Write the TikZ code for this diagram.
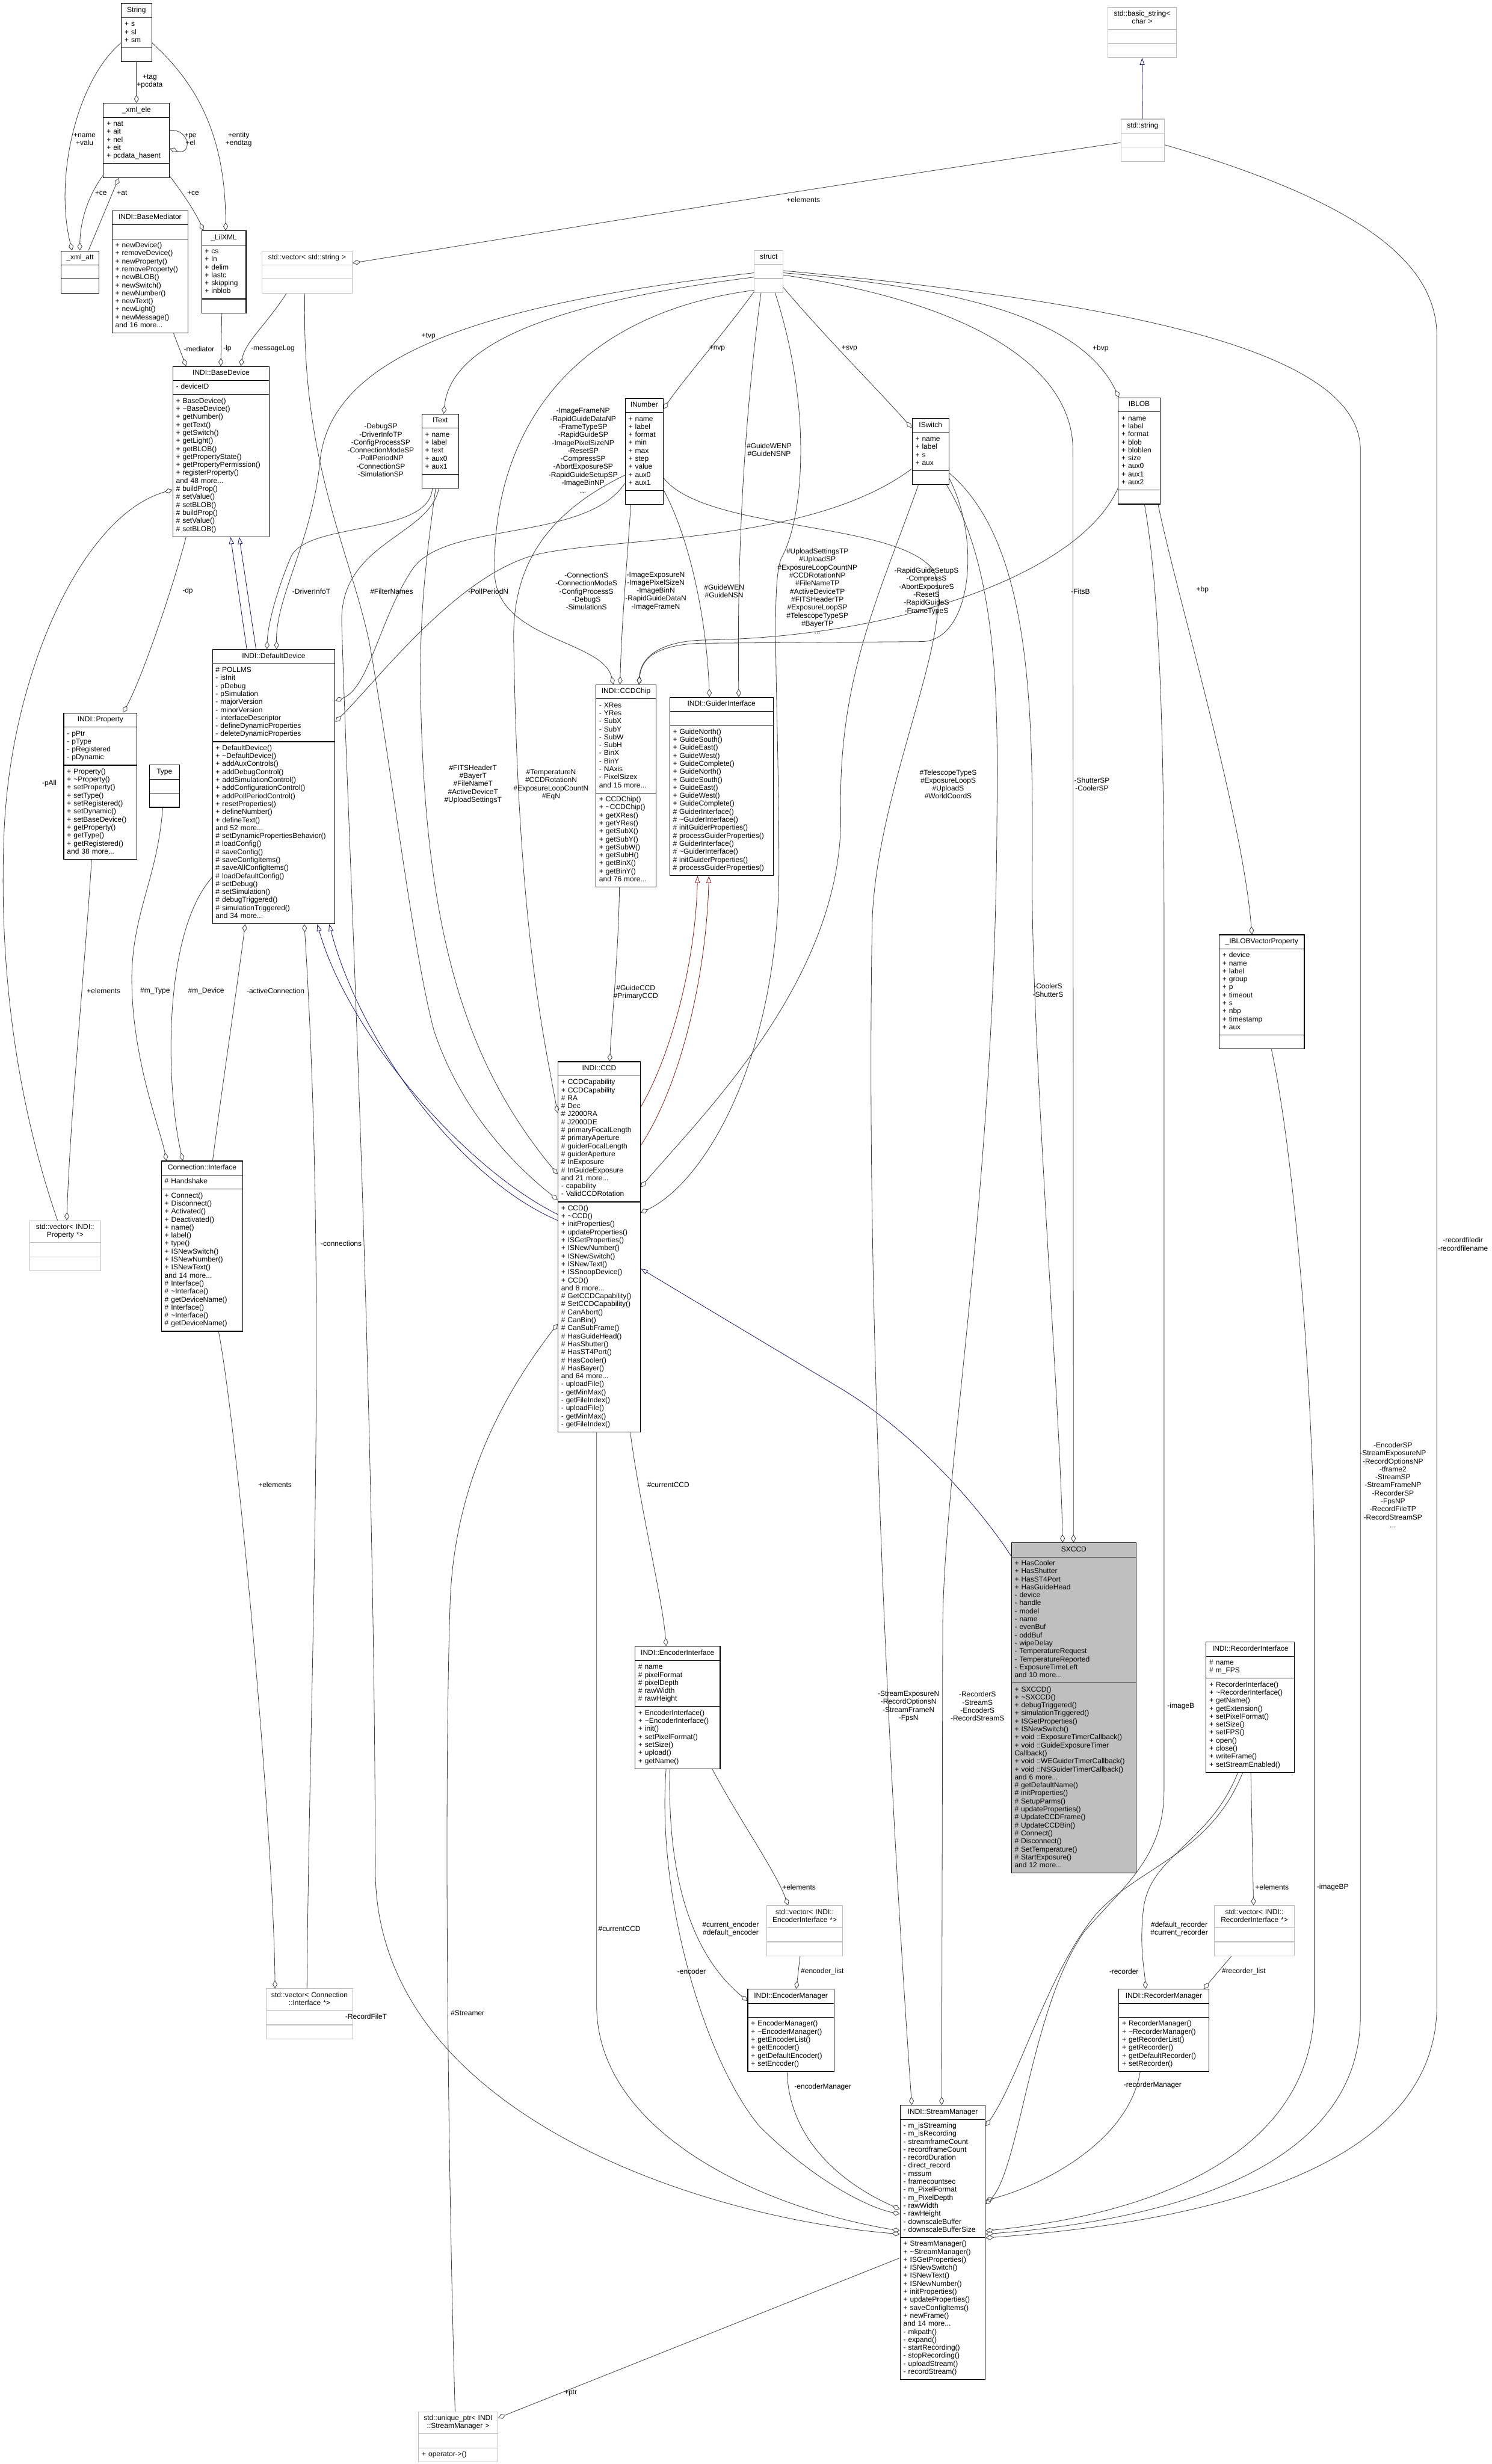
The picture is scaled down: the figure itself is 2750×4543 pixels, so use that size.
\documentclass[tikz,border=0pt]{standalone}
\usepackage{fontspec}
\setmainfont{Liberation Sans}
\usetikzlibrary{shapes.multipart}
\usetikzlibrary{arrows.meta}
\usetikzlibrary{calc}
\definecolor{edgegray}{HTML}{404040}
\definecolor{extgray}{HTML}{BFBFBF}
\definecolor{selgray}{HTML}{BFBFBF}
\definecolor{inhblue}{HTML}{191970}
\definecolor{inhred}{HTML}{8B1A1A}
\newcommand{\dgfont}{\fontsize{13.3pt}{14.75pt}\selectfont}
\newcommand{\memb}[1]{\strut#1\strut}
\newcommand{\ttl}[1]{\strut\hspace*{\fill}#1\hspace*{\fill}\strut}
\newcommand{\tld}{\textasciitilde}

\begin{document}
\begin{tikzpicture}[x=1pt,y=-1pt,
  cls/.style={draw=black,line width=1.2pt,fill=white,rectangle split,rectangle split parts=3,text width=#1,align=left,inner xsep=6pt,inner ysep=5pt,font=\dgfont,anchor=north west},
  ext/.style={draw=extgray},
  sel/.style={fill=selgray},
  agg/.style={draw=edgegray,line width=0.9pt,-{Diamond[open,length=15pt,width=9pt]}},
  inh/.style={draw=inhblue,line width=0.9pt,-{Triangle[open,length=13pt,width=9pt]}},
  inhp/.style={draw=inhred,line width=0.9pt,-{Triangle[open,length=13pt,width=9pt]}},
  lbl/.style={font=\dgfont,align=center,inner sep=0pt}]
  \path[use as bounding box,fill=white] (0,0) rectangle (2750,4543);

  \node[cls=44pt] (string) at (223,6) {\ttl{String}\nodepart{second}\memb{+ s\\+ sl\\+ sm}\nodepart{third}\strut};
  \node[cls=110pt] (xmlele) at (190,190) {\ttl{\_xml\_ele}\nodepart{second}\memb{+ nat\\+ ait\\+ nel\\+ eit\\+ pcdata\_hasent}\nodepart{third}\strut};
  \node[cls=58pt] (xmlatt) at (112,462) {\ttl{\_xml\_att}\nodepart{second}\strut\nodepart{third}\strut};
  \node[cls=128pt] (basemed) at (206,388) {\ttl{INDI::BaseMediator}\nodepart{second}\strut\nodepart{third}\memb{+ newDevice()\\+ removeDevice()\\+ newProperty()\\+ removeProperty()\\+ newBLOB()\\+ newSwitch()\\+ newNumber()\\+ newText()\\+ newLight()\\+ newMessage()\\and 16 more...}};
  \node[cls=70pt] (lilxml) at (371,425) {\ttl{\_LilXML}\nodepart{second}\memb{+ cs\\+ ln\\+ delim\\+ lastc\\+ skipping\\+ inblob}\nodepart{third}\strut};
  \node[cls=155pt,ext] (vecstr) at (482,462) {\ttl{std::vector< std::string >}\nodepart{second}\strut\nodepart{third}\strut};
  \node[cls=166pt] (basedev) at (318,675) {\ttl{INDI::BaseDevice}\nodepart{second}\memb{- deviceID}\nodepart{third}\memb{+ BaseDevice()\\+ \tld BaseDevice()\\+ getNumber()\\+ getText()\\+ getSwitch()\\+ getLight()\\+ getBLOB()\\+ getPropertyState()\\+ getPropertyPermission()\\+ registerProperty()\\and 48 more...\\\# buildProp()\\\# setValue()\\\# setBLOB()\\\# buildProp()\\\# setValue()\\\# setBLOB()}};
  \node[cls=56pt] (itext) at (777,763) {\ttl{IText}\nodepart{second}\memb{+ name\\+ label\\+ text\\+ aux0\\+ aux1}\nodepart{third}\strut};
  \node[cls=58pt] (inumber) at (1152,734) {\ttl{INumber}\nodepart{second}\memb{+ name\\+ label\\+ format\\+ min\\+ max\\+ step\\+ value\\+ aux0\\+ aux1}\nodepart{third}\strut};
  \node[cls=41pt,ext] (structn) at (1390,461) {\ttl{struct}\nodepart{second}\strut\nodepart{third}\strut};
  \node[cls=56pt] (iswitch) at (1681,771) {\ttl{ISwitch}\nodepart{second}\memb{+ name\\+ label\\+ s\\+ aux}\nodepart{third}\strut};
  \node[cls=65pt] (iblob) at (2061,733) {\ttl{IBLOB}\nodepart{second}\memb{+ name\\+ label\\+ format\\+ blob\\+ bloblen\\+ size\\+ aux0\\+ aux1\\+ aux2}\nodepart{third}\strut};
  \node[cls=114pt,ext] (basicstr) at (2042,13) {\ttl{std::basic\_string<}\\\ttl{char >}\nodepart{second}\strut\nodepart{third}\strut};
  \node[cls=68pt,ext] (stdstr) at (2066,219) {\ttl{std::string}\nodepart{second}\strut\nodepart{third}\strut};
  \node[cls=214pt] (defdev) at (391,1197) {\ttl{INDI::DefaultDevice}\nodepart{second}\memb{\# POLLMS\\- isInit\\- pDebug\\- pSimulation\\- majorVersion\\- minorVersion\\- interfaceDescriptor\\- defineDynamicProperties\\- deleteDynamicProperties}\nodepart{third}\memb{+ DefaultDevice()\\+ \tld DefaultDevice()\\+ addAuxControls()\\+ addDebugControl()\\+ addSimulationControl()\\+ addConfigurationControl()\\+ addPollPeriodControl()\\+ resetProperties()\\+ defineNumber()\\+ defineText()\\and 52 more...\\\# setDynamicPropertiesBehavior()\\\# loadConfig()\\\# saveConfig()\\\# saveConfigItems()\\\# saveAllConfigItems()\\\# loadDefaultConfig()\\\# setDebug()\\\# setSimulation()\\\# debugTriggered()\\\# simulationTriggered()\\and 34 more...}};
  \node[cls=123pt] (property) at (117,1314) {\ttl{INDI::Property}\nodepart{second}\memb{- pPtr\\- pType\\- pRegistered\\- pDynamic}\nodepart{third}\memb{+ Property()\\+ \tld Property()\\+ setProperty()\\+ setType()\\+ setRegistered()\\+ setDynamic()\\+ setBaseDevice()\\+ getProperty()\\+ getType()\\+ getRegistered()\\and 38 more...}};
  \node[cls=43pt] (typen) at (275,1410) {\ttl{Type}\nodepart{second}\strut\nodepart{third}\strut};
  \node[cls=119pt,ext] (vecprop) at (54,2250) {\ttl{std::vector< INDI::}\\\ttl{Property *>}\nodepart{second}\strut\nodepart{third}\strut};
  \node[cls=138pt] (conniface) at (297,2140) {\ttl{Connection::Interface}\nodepart{second}\memb{\# Handshake}\nodepart{third}\memb{+ Connect()\\+ Disconnect()\\+ Activated()\\+ Deactivated()\\+ name()\\+ label()\\+ type()\\+ ISNewSwitch()\\+ ISNewNumber()\\+ ISNewText()\\and 14 more...\\\# Interface()\\\# \tld Interface()\\\# getDeviceName()\\\# Interface()\\\# \tld Interface()\\\# getDeviceName()}};
  \node[cls=148pt,ext] (vecconn) at (490,3666) {\ttl{std::vector< Connection}\\\ttl{::Interface *>}\nodepart{second}\strut\nodepart{third}\strut};
  \node[cls=99pt] (ccdchip) at (1098,1262) {\ttl{INDI::CCDChip}\nodepart{second}\memb{- XRes\\- YRes\\- SubX\\- SubY\\- SubW\\- SubH\\- BinX\\- BinY\\- NAxis\\- PixelSizex\\and 15 more...}\nodepart{third}\memb{+ CCDChip()\\+ \tld CCDChip()\\+ getXRes()\\+ getYRes()\\+ getSubX()\\+ getSubY()\\+ getSubW()\\+ getSubH()\\+ getBinX()\\+ getBinY()\\and 76 more...}};
  \node[cls=179pt] (guider) at (1234,1285) {\ttl{INDI::GuiderInterface}\nodepart{second}\strut\nodepart{third}\memb{+ GuideNorth()\\+ GuideSouth()\\+ GuideEast()\\+ GuideWest()\\+ GuideComplete()\\+ GuideNorth()\\+ GuideSouth()\\+ GuideEast()\\+ GuideWest()\\+ GuideComplete()\\\# GuiderInterface()\\\# \tld GuiderInterface()\\\# initGuiderProperties()\\\# processGuiderProperties()\\\# GuiderInterface()\\\# \tld GuiderInterface()\\\# initGuiderProperties()\\\# processGuiderProperties()}};
  \node[cls=140pt] (ccd) at (1028,1957) {\ttl{INDI::CCD}\nodepart{second}\memb{+ CCDCapability\\+ CCDCapability\\\# RA\\\# Dec\\\# J2000RA\\\# J2000DE\\\# primaryFocalLength\\\# primaryAperture\\\# guiderFocalLength\\\# guiderAperture\\\# InExposure\\\# InGuideExposure\\and 21 more...\\- capability\\- ValidCCDRotation}\nodepart{third}\memb{+ CCD()\\+ \tld CCD()\\+ initProperties()\\+ updateProperties()\\+ ISGetProperties()\\+ ISNewNumber()\\+ ISNewSwitch()\\+ ISNewText()\\+ ISSnoopDevice()\\+ CCD()\\and 8 more...\\\# GetCCDCapability()\\\# SetCCDCapability()\\\# CanAbort()\\\# CanBin()\\\# CanSubFrame()\\\# HasGuideHead()\\\# HasShutter()\\\# HasST4Port()\\\# HasCooler()\\\# HasBayer()\\and 64 more...\\- uploadFile()\\- getMinMax()\\- getFileIndex()\\- uploadFile()\\- getMinMax()\\- getFileIndex()}};
  \node[cls=145pt] (iblobvp) at (2247,1723) {\ttl{\_IBLOBVectorProperty}\nodepart{second}\memb{+ device\\+ name\\+ label\\+ group\\+ p\\+ timeout\\+ s\\+ nbp\\+ timestamp\\+ aux}\nodepart{third}\strut};
  \node[cls=218pt,sel] (sxccd) at (1864,2844) {\ttl{SXCCD}\nodepart{second}\memb{+ HasCooler\\+ HasShutter\\+ HasST4Port\\+ HasGuideHead\\- device\\- handle\\- model\\- name\\- evenBuf\\- oddBuf\\- wipeDelay\\- TemperatureRequest\\- TemperatureReported\\- ExposureTimeLeft\\and 10 more...}\nodepart{third}\memb{+ SXCCD()\\+ \tld SXCCD()\\+ debugTriggered()\\+ simulationTriggered()\\+ ISGetProperties()\\+ ISNewSwitch()\\+ void ::ExposureTimerCallback()\\+ void ::GuideExposureTimer\\Callback()\\+ void ::WEGuiderTimerCallback()\\+ void ::NSGuiderTimerCallback()\\and 6 more...\\\# getDefaultName()\\\# initProperties()\\\# SetupParms()\\\# updateProperties()\\\# UpdateCCDFrame()\\\# UpdateCCDBin()\\\# Connect()\\\# Disconnect()\\\# SetTemperature()\\\# StartExposure()\\and 12 more...}};
  \node[cls=151pt] (recif) at (2223,3027) {\ttl{INDI::RecorderInterface}\nodepart{second}\memb{\# name\\\# m\_FPS}\nodepart{third}\memb{+ RecorderInterface()\\+ \tld RecorderInterface()\\+ getName()\\+ getExtension()\\+ setPixelFormat()\\+ setSize()\\+ setFPS()\\+ open()\\+ close()\\+ writeFrame()\\+ setStreamEnabled()}};
  \node[cls=136pt,ext] (vecrec) at (2238,3513) {\ttl{std::vector< INDI::}\\\ttl{RecorderInterface *>}\nodepart{second}\strut\nodepart{third}\strut};
  \node[cls=154pt] (recman) at (2062,3667) {\ttl{INDI::RecorderManager}\nodepart{second}\strut\nodepart{third}\memb{+ RecorderManager()\\+ \tld RecorderManager()\\+ getRecorderList()\\+ getRecorder()\\+ getDefaultRecorder()\\+ setRecorder()}};
  \node[cls=145pt] (encif) at (1170,3035) {\ttl{INDI::EncoderInterface}\nodepart{second}\memb{\# name\\\# pixelFormat\\\# pixelDepth\\\# rawWidth\\\# rawHeight}\nodepart{third}\memb{+ EncoderInterface()\\+ \tld EncoderInterface()\\+ init()\\+ setPixelFormat()\\+ setSize()\\+ upload()\\+ getName()}};
  \node[cls=128pt,ext] (vecenc) at (1413,3513) {\ttl{std::vector< INDI::}\\\ttl{EncoderInterface *>}\nodepart{second}\strut\nodepart{third}\strut};
  \node[cls=147pt] (encman) at (1378,3667) {\ttl{INDI::EncoderManager}\nodepart{second}\strut\nodepart{third}\memb{+ EncoderManager()\\+ \tld EncoderManager()\\+ getEncoderList()\\+ getEncoder()\\+ getDefaultEncoder()\\+ setEncoder()}};
  \node[cls=145pt] (strman) at (1659,3881) {\ttl{INDI::StreamManager}\nodepart{second}\memb{- m\_isStreaming\\- m\_isRecording\\- streamframeCount\\- recordframeCount\\- recordDuration\\- direct\_record\\- mssum\\- framecountsec\\- m\_PixelFormat\\- m\_PixelDepth\\- rawWidth\\- rawHeight\\- downscaleBuffer\\- downscaleBufferSize}\nodepart{third}\memb{+ StreamManager()\\+ \tld StreamManager()\\+ ISGetProperties()\\+ ISNewSwitch()\\+ ISNewText()\\+ ISNewNumber()\\+ initProperties()\\+ updateProperties()\\+ saveConfigItems()\\+ newFrame()\\and 14 more...\\- mkpath()\\- expand()\\- startRecording()\\- stopRecording()\\- uploadStream()\\- recordStream()}};
  \node[cls=134pt,ext] (uniq) at (771,4446) {\ttl{std::unique\_ptr< INDI}\\\ttl{::StreamManager >}\nodepart{second}\strut\nodepart{third}\memb{+ operator->()}};

  \draw[agg] (string.south) -- (xmlele.north);
  \draw[agg] ($(string.north west)+(0,73)$) .. controls (140,150) and (100,330) .. ($(xmlatt.north west)+(21,0)$);
  \draw[agg] ($(string.north east)+(0,73)$) .. controls (370,160) and (416,260) .. ($(lilxml.north west)+(45,0)$);
  \draw[agg] ($(xmlele.north east)+(0,50)$) .. controls (352,238) and (354,288) .. ($(xmlele.north east)+(0,84)$);
  \draw[agg] ($(xmlele.south west)+(0,-5)$) .. controls (160,365) and (148,410) .. ($(xmlatt.north west)+(35,0)$);
  \draw[agg] ($(xmlatt.north west)+(51,0)$) -- ($(xmlele.south west)+(29,0)$);
  \draw[agg] ($(xmlele.south east)+(0,-3)$) .. controls (340,360) and (362,395) .. ($(lilxml.north west)+(4,0)$);
  \draw[agg] ($(basemed.south west)+(114,0)$) -- ($(basedev.north west)+(25,0)$);
  \draw[agg] ($(lilxml.south west)+(38,0)$) -- ($(basedev.north west)+(89,0)$);
  \draw[agg] ($(vecstr.south west)+(46,0)$) .. controls (490,600) and (452,630) .. ($(basedev.north west)+(126,0)$);
  \draw[agg] ($(stdstr.north west)+(0,44)$) .. controls (1500,345) and (900,445) .. ($(vecstr.north east)+(0,23)$);
  \draw[inh] (stdstr.north) -- (basicstr.south);

  \draw[inh] ($(defdev.north west)+(64,0)$) -- ($(basedev.south west)+(107,0)$);
  \draw[inh] ($(defdev.north west)+(81,0)$) -- ($(basedev.south west)+(123,0)$);
  \draw[agg] ($(basedev.south west)+(25,0)$) .. controls (320,1080) and (262,1250) .. ($(property.north west)+(110,0)$);
  \draw[agg] ($(vecprop.north west)+(52,0)$) .. controls (20,2000) and (0,1750) .. (7,1550) .. controls (15,1250) and (150,950) .. ($(basedev.north west)+(0,228)$);
  \draw[agg] ($(property.south west)+(52,0)$) .. controls (155,1800) and (130,2050) .. ($(vecprop.north west)+(69,0)$);
  \draw[agg] ($(typen.south)+(-3,0)$) .. controls (290,1620) and (245,1680) .. (243,1800) .. controls (242,1950) and (295,2080) .. ($(conniface.north west)+(10,0)$);
  \draw[agg] ($(defdev.south west)+(0,-86)$) .. controls (300,1720) and (305,2000) .. ($(conniface.north west)+(40,0)$);
  \draw[agg] ($(conniface.north west)+(95,0)$) .. controls (410,2000) and (440,1800) .. ($(defdev.south west)+(61,0)$);
  \draw[agg] ($(vecconn.north west)+(76,0)$) .. controls (570,3100) and (605,2400) .. ($(defdev.south west)+(170,0)$);
  \draw[agg] ($(conniface.south west)+(106,0)$) .. controls (440,2650) and (505,3400) .. ($(vecconn.north west)+(17,0)$);

  \draw[agg] ($(structn.north west)+(0,42)$) .. controls (900,560) and (610,650) .. (590,850) .. controls (575,1000) and (508,1100) .. ($(defdev.north west)+(119,0)$);
  \draw[agg] ($(structn.north west)+(0,50)$) .. controls (1000,560) and (830,640) .. ($(itext.north west)+(41,0)$);
  \draw[agg] ($(structn.south west)+(0,-5)$) .. controls (1050,580) and (905,800) .. (912,1060) .. controls (918,1180) and (1110,1180) .. ($(ccdchip.north west)+(33,0)$);
  \draw[agg] ($(structn.south west)+(0,-2)$) .. controls (1330,620) and (1260,700) .. ($(inumber.north east)+(0,20)$);
  \draw[agg] ($(structn.south west)+(13,0)$) .. controls (1375,750) and (1358,1000) .. ($(guider.north west)+(128,0)$);
  \draw[agg] ($(structn.south west)+(39,0)$) .. controls (1500,760) and (1480,960) .. (1440,1030) .. controls (1420,1080) and (1436,1300) .. (1436,1600) .. controls (1436,1950) and (1300,2180) .. ($(ccd.north east)+(0,279)$);
  \draw[agg] ($(structn.south east)+(0,-10)$) .. controls (1520,620) and (1620,720) .. ($(iswitch.north west)+(0,18)$);
  \draw[agg] ($(structn.north east)+(0,42)$) .. controls (1750,530) and (1990,580) .. ($(iblob.north west)+(2,0)$);
  \draw[agg] ($(structn.north east)+(0,46)$) .. controls (1800,560) and (1978,680) .. (1978,830) -- ($(sxccd.north west)+(115,0)$);
  \draw[agg] ($(structn.north east)+(0,38)$) .. controls (2100,560) and (2508,650) .. (2508,830) -- (2508,3720) .. controls (2505,3980) and (2200,4090) .. ($(strman.north east)+(0,238)$);

  \draw[agg] ($(inumber.south west)+(11,0)$) .. controls (1155,1050) and (1146,1150) .. ($(ccdchip.north west)+(45,0)$);
  \draw[agg] ($(inumber.south east)+(0,-28)$) .. controls (1275,1000) and (1303,1150) .. ($(guider.north west)+(74,0)$);
  \draw[agg] ($(inumber.south west)+(0,-40)$) .. controls (1080,1000) and (820,960) .. (760,1050) .. controls (700,1140) and (680,1270) .. ($(defdev.north east)+(0,95)$);
  \draw[agg] ($(inumber.south west)+(0,-55)$) .. controls (1000,950) and (945,1050) .. (947,1180) .. controls (955,1700) and (1000,1900) .. ($(ccd.north west)+(0,95)$);
  \draw[agg] ($(inumber.south east)+(0,-50)$) .. controls (1300,980) and (1650,960) .. (1720,1050) .. controls (1770,1150) and (1615,1450) .. (1608,1700) .. controls (1595,2400) and (1640,3300) .. ($(strman.north west)+(22,0)$);

  \draw[agg] ($(iswitch.south west)+(0,-30)$) .. controls (1500,1000) and (1150,990) .. (1000,1020) .. controls (850,1050) and (700,1250) .. ($(defdev.north east)+(0,134)$);
  \draw[agg] ($(iswitch.south east)+(0,-12)$) .. controls (1810,1000) and (1790,1180) .. (1700,1183) -- (1290,1186) .. controls (1200,1190) and (1182,1220) .. ($(ccdchip.north west)+(80,0)$);
  \draw[agg] ($(iswitch.south west)+(12,0)$) .. controls (1620,1100) and (1545,1250) .. (1550,1500) .. controls (1555,1800) and (1300,2050) .. ($(ccd.north east)+(0,232)$);
  \draw[agg] ($(iswitch.south east)+(0,-22)$) .. controls (1900,1000) and (1905,1300) .. (1903,1600) .. controls (1900,1900) and (1955,2600) .. ($(sxccd.north west)+(95,0)$);
  \draw[agg] ($(iswitch.south east)+(-5,0)$) .. controls (1840,1050) and (1840,1300) .. (1838,1500) .. controls (1835,2200) and (1740,2700) .. (1738,3000) -- ($(strman.north west)+(77,0)$);

  \draw[agg] ($(iblob.south west)+(0,-30)$) .. controls (1990,1060) and (1650,1175) .. (1300,1180) .. controls (1205,1182) and (1180,1220) .. ($(ccdchip.north west)+(80,0)$);
  \draw[agg] ($(iblob.south west)+(74,0)$) .. controls (2170,1100) and (2290,1500) .. ($(iblobvp.north west)+(61,0)$);
  \draw[agg] ($(iblob.south west)+(49,0)$) .. controls (2140,1100) and (2146,1400) .. (2146,1700) -- (2146,3300) .. controls (2146,3420) and (2080,3470) .. (2000,3560) .. controls (1900,3700) and (1880,4000) .. ($(strman.north east)+(0,183)$);
  \draw[agg] ($(iblobvp.south west)+(97,0)$) .. controls (2390,2150) and (2423,2600) .. (2423,2900) -- (2423,3700) .. controls (2420,3960) and (2150,4080) .. ($(strman.north east)+(0,232)$);
  \draw[agg] ($(stdstr.north east)+(0,48)$) .. controls (2500,370) and (2649,480) .. (2649,620) -- (2649,3700) .. controls (2646,3990) and (2250,4095) .. ($(strman.north east)+(0,245)$);

  \draw[agg] ($(itext.south west)+(20,0)$) .. controls (790,990) and (560,960) .. (535,1030) .. controls (510,1090) and (494,1150) .. ($(defdev.north west)+(101,0)$);
  \draw[agg] ($(itext.south west)+(26,0)$) .. controls (790,1000) and (775,1100) .. (775,1250) .. controls (780,1700) and (850,1950) .. ($(ccd.north west)+(0,208)$);
  \draw[agg] ($(itext.south west)+(32,0)$) .. controls (790,990) and (625,1000) .. (630,1150) .. controls (640,1500) and (690,2500) .. (692,3450) .. controls (694,3900) and (1300,4090) .. ($(strman.north west)+(0,238)$);
  \draw[agg] ($(vecstr.south west)+(80,0)$) .. controls (555,850) and (640,1000) .. (680,1180) .. controls (720,1400) and (760,1750) .. (800,1900) .. controls (850,2050) and (950,2150) .. ($(ccd.north west)+(0,255)$);

  \draw[agg] ($(ccdchip.south west)+(44,0)$) .. controls (1140,1760) and (1128,1880) .. ($(ccd.north west)+(96,0)$);
  \draw[inhp] ($(ccd.north east)+(0,84)$) .. controls (1235,1950) and (1282,1780) .. ($(guider.south west)+(52,0)$);
  \draw[inhp] ($(ccd.north east)+(0,155)$) .. controls (1255,2000) and (1302,1800) .. ($(guider.south west)+(73,0)$);
  \draw[inh] ($(ccd.north west)+(0,282)$) .. controls (850,2150) and (640,1900) .. ($(defdev.south west)+(194,0)$);
  \draw[inh] ($(ccd.north west)+(0,293)$) .. controls (840,2170) and (660,1910) .. ($(defdev.south west)+(216,0)$);
  \draw[inh] ($(sxccd.north west)+(0,25)$) .. controls (1820,2800) and (1700,2650) .. (1550,2560) -- ($(ccd.north east)+(0,382)$);

  \draw[agg] ($(uniq.north west)+(68,0)$) .. controls (826,4000) and (818,3300) .. (830,2950) .. controls (840,2700) and (960,2530) .. ($(ccd.north west)+(0,484)$);
  \draw[agg] ($(strman.north west)+(0,282)$) -- ($(uniq.north east)+(0,12)$);
  \draw[agg] ($(ccd.south west)+(72,0)$) -- (1100,3700) .. controls (1102,3930) and (1400,4070) .. ($(strman.north west)+(0,232)$);
  \draw[agg] ($(ccd.south west)+(134,0)$) .. controls (1180,2780) and (1222,2950) .. ($(encif.north west)+(58,0)$);

  \draw[agg] ($(encif.south west)+(143,0)$) .. controls (1360,3350) and (1430,3450) .. ($(vecenc.north west)+(40,0)$);
  \draw[agg] ($(vecenc.south west)+(62,0)$) -- ($(encman.north west)+(90,0)$);
  \draw[agg] ($(encif.south west)+(65,0)$) .. controls (1230,3450) and (1270,3600) .. ($(encman.north west)+(0,22)$);
  \draw[agg] ($(encif.south west)+(58,0)$) .. controls (1210,3500) and (1300,3800) .. (1400,3920) .. controls (1500,4020) and (1600,4070) .. ($(strman.north west)+(0,201)$);
  \draw[agg] ($(encman.south west)+(73,0)$) .. controls (1455,3950) and (1560,4030) .. ($(strman.north west)+(0,192)$);

  \draw[agg] ($(recif.south west)+(83,0)$) -- ($(vecrec.north west)+(73,0)$);
  \draw[agg] ($(vecrec.south west)+(32,0)$) -- ($(recman.north east)+(-10,0)$);
  \draw[agg] ($(recif.south west)+(59,0)$) .. controls (2230,3400) and (2120,3420) .. (2108,3520) .. controls (2100,3590) and (2110,3630) .. ($(recman.north west)+(50,0)$);
  \draw[agg] ($(recif.south west)+(68,0)$) .. controls (2230,3420) and (2100,3440) .. (2020,3530) .. controls (1930,3640) and (1880,3830) .. ($(strman.north east)+(0,39)$);
  \draw[agg] ($(recman.south west)+(40,0)$) .. controls (2080,3950) and (1920,4030) .. ($(strman.north east)+(0,176)$);

  \node[lbl] (ltag) at (276,150) {+tag\\+pcdata};
  \node[lbl] (lname) at (156,257) {+name\\+valu};
  \node[lbl] (lentity) at (440,257) {+entity\\+endtag};
  \node[lbl] (lpe) at (351,257) {+pe\\+el};
  \node[lbl] (lce) at (186,356) {+ce};
  \node[lbl] (lat) at (225,356) {+at};
  \node[lbl] (lce2) at (356,356) {+ce};
  \node[lbl] (lmed) at (367,643) {-mediator};
  \node[lbl] (llp) at (419,643) {-lp};
  \node[lbl] (lmsg) at (503,643) {-messageLog};
  \node[lbl] (lelstr) at (1481,368) {+elements};
  \node[lbl] (ldp) at (346,1090) {-dp};
  \node[lbl] (lpall) at (91,1444) {-pAll};
  \node[lbl] (lelprop) at (191,1827) {+elements};
  \node[lbl] (lmtype) at (286,1827) {\#m\_Type};
  \node[lbl] (lmdev) at (380,1827) {\#m\_Device};
  \node[lbl] (lactive) at (508,1827) {-activeConnection};
  \node[lbl] (lconns) at (629,2293) {-connections};
  \node[lbl] (lelconn) at (507,2738) {+elements};
  \node[lbl] (ldebugsp) at (702,830) {-DebugSP\\-DriverInfoTP\\-ConfigProcessSP\\-ConnectionModeSP\\-PollPeriodNP\\-ConnectionSP\\-SimulationSP};
  \node[lbl] (ltvp) at (790,620) {+tvp};
  \node[lbl] (limgnp) at (1075,831) {-ImageFrameNP\\-RapidGuideDataNP\\-FrameTypeSP\\-RapidGuideSP\\-ImagePixelSizeNP\\-ResetSP\\-CompressSP\\-AbortExposureSP\\-RapidGuideSetupSP\\-ImageBinNP\\...};
  \node[lbl] (lnvp) at (1322,643) {+nvp};
  \node[lbl] (lsvp) at (1566,643) {+svp};
  \node[lbl] (lwenp) at (1418,829) {\#GuideWENP\\\#GuideNSNP};
  \node[lbl] (ldrvt) at (574,1090) {-DriverInfoT};
  \node[lbl] (lfilter) at (722,1090) {\#FilterNames};
  \node[lbl] (lpollt) at (900,1090) {-PollPeriodN};
  \node[lbl] (lconns2) at (1081,1090) {-ConnectionS\\-ConnectionModeS\\-ConfigProcessS\\-DebugS\\-SimulationS};
  \node[lbl] (limgn) at (1209,1090) {-ImageExposureN\\-ImagePixelSizeN\\-ImageBinN\\-RapidGuideDataN\\-ImageFrameN};
  \node[lbl] (lwen) at (1335,1090) {\#GuideWEN\\\#GuideNSN};
  \node[lbl] (lupl) at (1507,1090) {\#UploadSettingsTP\\\#UploadSP\\\#ExposureLoopCountNP\\\#CCDRotationNP\\\#FileNameTP\\\#ActiveDeviceTP\\\#FITSHeaderTP\\\#ExposureLoopSP\\\#TelescopeTypeSP\\\#BayerTP\\...};
  \node[lbl] (lrgs) at (1708,1090) {-RapidGuideSetupS\\-CompressS\\-AbortExposureS\\-ResetS\\-RapidGuideS\\-FrameTypeS};
  \node[lbl] (lfits) at (1992,1090) {-FitsB};
  \node[lbl] (lbvp) at (2029,643) {+bvp};
  \node[lbl] (lbp) at (2217,1087) {+bp};
  \node[lbl] (lfitsh) at (872,1446) {\#FITSHeaderT\\\#BayerT\\\#FileNameT\\\#ActiveDeviceT\\\#UploadSettingsT};
  \node[lbl] (ltemp) at (1016,1447) {\#TemperatureN\\\#CCDRotationN\\\#ExposureLoopCountN\\\#EqN};
  \node[lbl] (ltel) at (1748,1446) {\#TelescopeTypeS\\\#ExposureLoopS\\\#UploadS\\\#WorldCoordS};
  \node[lbl] (lshsp) at (2013,1446) {-ShutterSP\\-CoolerSP};
  \node[lbl] (lguide) at (1172,1830) {\#GuideCCD\\\#PrimaryCCD};
  \node[lbl] (lcool) at (1932,1826) {-CoolerS\\-ShutterS};
  \node[lbl] (lrecdir) at (2697,2294) {-recordfiledir\\-recordfilename};
  \node[lbl] (lencsp) at (2568,2738) {-EncoderSP\\-StreamExposureNP\\-RecordOptionsNP\\-tframe2\\-StreamSP\\-StreamFrameNP\\-RecorderSP\\-FpsNP\\-RecordFileTP\\-RecordStreamSP\\...};
  \node[lbl] (lcur1) at (1232,2738) {\#currentCCD};
  \node[lbl] (limgb) at (2177,3146) {-imageB};
  \node[lbl] (lstrexp) at (1675,3146) {-StreamExposureN\\-RecordOptionsN\\-StreamFrameN\\-FpsN};
  \node[lbl] (lrecs) at (1802,3146) {-RecorderS\\-StreamS\\-EncoderS\\-RecordStreamS};
  \node[lbl] (lelenc) at (1473,3480) {+elements};
  \node[lbl] (lelrec) at (2345,3480) {+elements};
  \node[lbl] (limgbp) at (2457,3480) {-imageBP};
  \node[lbl] (lcurenc) at (1347,3557) {\#current\_encoder\\\#default\_encoder};
  \node[lbl] (lcur2) at (1142,3556) {\#currentCCD};
  \node[lbl] (ldefrec) at (2174,3557) {\#default\_recorder\\\#current\_recorder};
  \node[lbl] (lenc) at (1275,3635) {-encoder};
  \node[lbl] (lenclist) at (1516,3635) {\#encoder\_list};
  \node[lbl] (lreclist) at (2293,3635) {\#recorder\_list};
  \node[lbl] (lrec) at (2072,3635) {-recorder};
  \node[lbl] (lrecft) at (675,3718) {-RecordFileT};
  \node[lbl] (lstreamer) at (862,3712) {\#Streamer};
  \node[lbl] (lencman) at (1517,3848) {-encoderManager};
  \node[lbl] (lrecman) at (2125,3845) {-recorderManager};
  \node[lbl] (lptr) at (1052,4412) {+ptr};
\end{tikzpicture}
\end{document}
